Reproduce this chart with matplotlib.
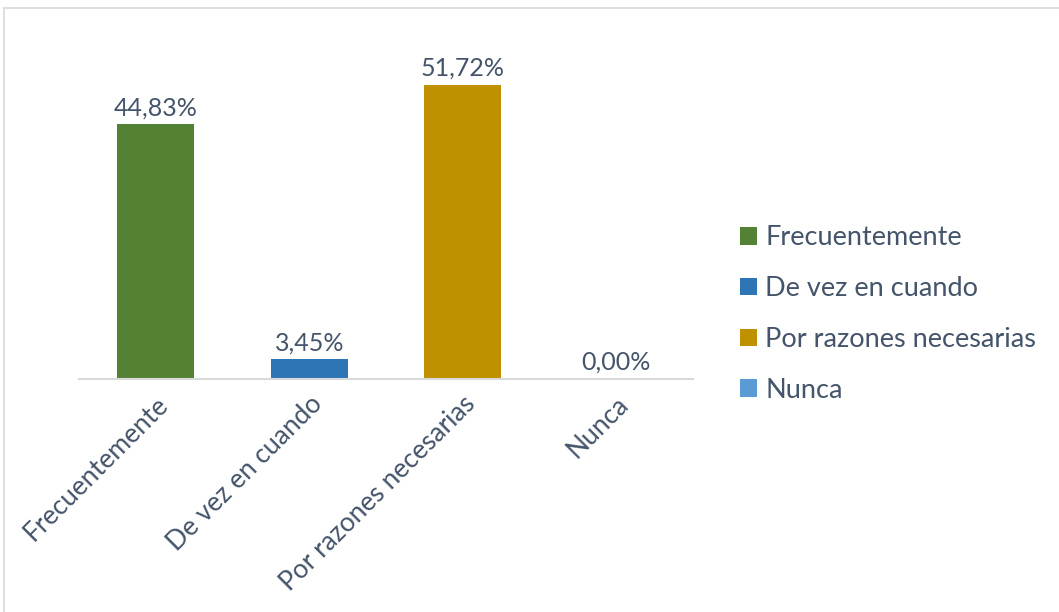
import matplotlib.pyplot as plt
from matplotlib.patches import Patch, Rectangle

categories = ["Frecuentemente", "De vez en cuando", "Por razones necesarias", "Nunca"]
values = [44.83, 3.45, 51.72, 0.00]
colors = ["#548235", "#2E75B6", "#BF9000", "#5B9BD5"]
text_color = "#44546A"

plt.rcParams['font.family'] = ['Lato', 'DejaVu Sans']

fig = plt.figure(figsize=(10.59, 6.12), dpi=100)
W, H = 1059, 612

# chart area border
fig.patches.append(Rectangle((4 / W, -0.1), 1.2, 1 - 8 / H + 0.1, transform=fig.transFigure,
                             fill=False, edgecolor="#D9D9D9", linewidth=1.2))

ax = fig.add_axes([79 / W, (H - 379) / H, (693 - 79) / W, (379 - 38) / H])
x = range(len(categories))
bars = ax.bar(x, values, width=0.5, color=colors)
ax.set_xlim(-0.5, 3.5)
ax.set_ylim(0, 60)

for xi, v in zip(x, values):
    ax.text(xi, v + 0.9, ("%.2f%%" % v).replace(".", ","), ha="center", va="bottom",
            fontsize=18, color=text_color)

for s in ["top", "right", "left"]:
    ax.spines[s].set_visible(False)
ax.spines["bottom"].set_color("#D9D9D9")
ax.spines["bottom"].set_linewidth(1.5)
ax.set_yticks([])
ax.set_xticks(list(x))
ax.set_xticklabels(categories, rotation=45, ha="right", rotation_mode="anchor",
                   fontsize=19, color=text_color)
ax.tick_params(axis="x", length=0, pad=9)

handles = [Patch(facecolor=c) for c in colors]
fig.legend(handles, categories, loc="center left", bbox_to_anchor=(716 / W, 1 - 314 / H),
           frameon=False, fontsize=19.5, labelcolor=text_color, handlelength=0.62,
           handleheight=0.62, handletextpad=0.3, labelspacing=0.95)

fig.savefig("out.png", dpi=100)
